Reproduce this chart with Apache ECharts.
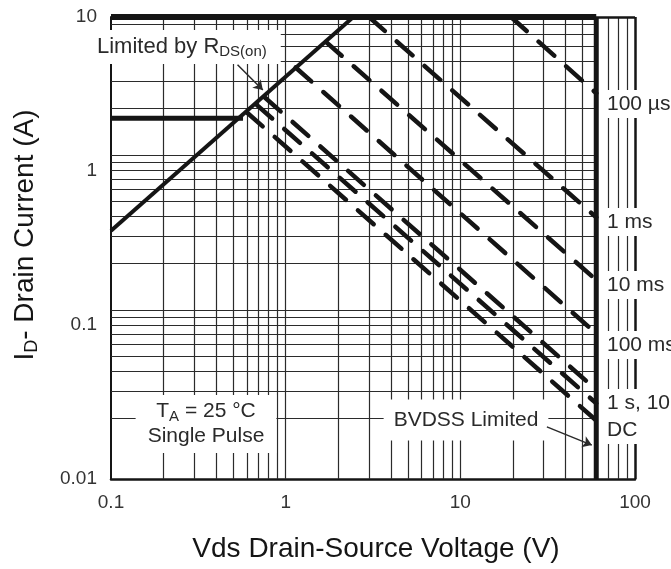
<!DOCTYPE html>
<html>
<head>
<meta charset="utf-8">
<title>Safe Operating Area</title>
<script src="https://cdn.jsdelivr.net/npm/echarts@6/dist/echarts.min.js"></script>
<style>
html, body { margin: 0; padding: 0; background: #fff; }
#chart { width: 671px; height: 569px; }
</style>
</head>
<body>
<div id="chart"></div>
<script>
// axis range / ticks
const xRange = [0.1, 100];
const yRange = [0.01, 10];

// the datasheet grid is drawn on a scale shifted a little against the labels
const gridYRange = [0.0081, 7.77];
const gridX = [0.2, 0.3, 0.4, 0.5, 0.6, 0.7, 0.8, 0.9, 1, 2, 3, 4, 5, 6, 7, 8, 9, 10, 20, 30, 40, 50, 70, 80, 90];
const gridY = [0.02, 0.03, 0.04, 0.05, 0.06, 0.07, 0.08, 0.09, 0.1, 0.2, 0.3, 0.4, 0.5, 0.6, 0.7, 0.8, 0.9, 1, 2, 3, 4, 5, 6, 7];

// solid limit lines
const rdsLimit = [[0.1, 0.41], [2.44, 10]];
const currentLimit = [[0.1, 2.2], [0.57, 2.2]];
const idmLimit = [[0.1, 10], [60, 10]];
const bvdssLimit = [[60, 0.01], [60, 10]];

// pulse curves (dashed)
const pulseNames = ['100 µs', '1 ms', '10 ms', '100 ms', '1 s', '10 s', 'DC'];
const pulseStart = [[19.5, 10], [3.0, 10], [1.7, 6.9], [1.14, 4.7], [0.76, 3.0], [0.68, 2.7], [0.6, 2.4]];
const pulseEnd = [[60, 3.2], [60, 0.5], [60, 0.196], [60, 0.088], [60, 0.038], [60, 0.031], [60, 0.024]];

// annotation arrows
const rdsArrow = [[0.53, 4.9], [0.74, 3.36]];
const bvdssArrow = [[31.3, 0.0218], [56.6, 0.0166]];

// label texts
const rightLabels = ['100 µs', '1 ms', '10 ms', '100 ms', '1 s, 10 s', 'DC'];

const FONT = "'Liberation Sans', Arial, Helvetica, sans-serif";
const INK = '#151515';

let chart = echarts.init(document.getElementById('chart'));

let vGrid = gridX.map(v => ({ coords: [[v, yRange[0]], [v, yRange[1]]] }));
let hGrid = gridY.map(v => ({ coords: [[xRange[0], v], [60, v]] }));
let frame = [
    { coords: [[xRange[0], yRange[1]], [xRange[1], yRange[1]]] },
    { coords: [[xRange[1], yRange[0]], [xRange[1], yRange[1]]] }
];

function solid(name, data, width) {
    return {
        name: name, type: 'line', data: data, symbol: 'none', clip: false, z: 4, silent: true,
        lineStyle: { color: INK, width: width, cap: 'butt' }
    };
}

let pulseSeries = pulseNames.map((n, i) => ({
    name: n, type: 'line', data: [pulseStart[i], pulseEnd[i]], symbol: 'none', z: 3, silent: true,
    lineStyle: { color: INK, width: 4.5, type: [21, 16], cap: 'round' }
}));

let noteRich = {
    m: { fontSize: 21, lineHeight: 25, fontFamily: FONT, fill: '#2a2a2a' },
    s: { fontSize: 15, lineHeight: 25, fontFamily: FONT, fill: '#2a2a2a', verticalAlign: 'bottom' }
};

let graphics = [
    { // Limited by RDS(on)
        type: 'text', z: 100, x: 93, y: 30,
        style: {
            text: '{b|Limited by R}{s|DS(on)}', align: 'left', verticalAlign: 'top',
            backgroundColor: '#fff', padding: [4, 14, 5, 4],
            rich: {
                b: { fontSize: 22, lineHeight: 25, fontFamily: FONT, fill: '#2a2a2a' },
                s: noteRich.s
            }
        }
    },
    { // TA = 25 C, single pulse
        type: 'text', z: 100, x: 206, y: 424,
        style: {
            text: '{m|T}{s|A}{m| = 25 °C}\n{m|Single Pulse}', align: 'center', verticalAlign: 'middle',
            backgroundColor: '#fff', padding: [4, 12, 4, 12], rich: noteRich
        }
    },
    { // BVDSS Limited
        type: 'text', z: 100, x: 466, y: 420,
        style: {
            text: 'BVDSS Limited', fontSize: 21, fontFamily: FONT, fill: '#2a2a2a',
            align: 'center', verticalAlign: 'middle', lineHeight: 24,
            backgroundColor: '#fff', padding: [8, 10, 9, 10]
        }
    },
    { // y axis title
        type: 'text', z: 100, x: 25, y: 235, rotation: Math.PI / 2,
        style: {
            text: '{m|I}{s|D}{m|- Drain Current (A)}', align: 'center', verticalAlign: 'middle',
            rich: {
                m: { fontSize: 28, lineHeight: 32, fontFamily: FONT, fill: INK },
                s: { fontSize: 18, lineHeight: 32, fontFamily: FONT, fill: INK, verticalAlign: 'bottom' }
            }
        }
    }
];

let rightY = [104, 222, 285, 345, 403, 430];
rightLabels.forEach((t, i) => {
    graphics.push({
        type: 'text', z: 100, x: 602, y: rightY[i],
        style: {
            text: t, fontSize: 21, fontFamily: FONT, fill: '#2a2a2a', lineHeight: 24,
            align: 'left', verticalAlign: 'middle',
            backgroundColor: '#fff', padding: [2, 40, 2, 5]
        }
    });
});

let tickFmt = v => String(parseFloat(Number(v).toPrecision(6)));

let option = {
    animation: false,
    backgroundColor: '#fff',
    textStyle: { fontFamily: FONT },
    grid: { left: 111, top: 17, width: 524, height: 462 },
    xAxis: {
        type: 'log', logBase: 10, min: xRange[0], max: xRange[1],
        name: 'Vds Drain-Source Voltage (V)', nameLocation: 'middle', nameGap: 56,
        nameTextStyle: { fontSize: 28, color: INK, fontFamily: FONT, padding: [0, 0, 0, 6] },
        axisLine: { show: true, lineStyle: { color: INK, width: 2.5 } },
        axisTick: { show: false },
        splitLine: { show: false },
        axisLabel: { fontSize: 19, color: '#333', margin: 14, formatter: tickFmt }
    },
    yAxis: [
        {
            type: 'log', logBase: 10, min: yRange[0], max: yRange[1],
            axisLine: { show: true, lineStyle: { color: INK, width: 2 } },
            axisTick: { show: false },
            splitLine: { show: false },
            axisLabel: { fontSize: 19, color: '#333', margin: 14, formatter: tickFmt }
        },
        {
            type: 'log', logBase: 10, min: gridYRange[0], max: gridYRange[1], show: false,
            splitLine: { show: false }
        }
    ],
    graphic: graphics,
    series: [
        {
            name: 'grid-x', type: 'lines', coordinateSystem: 'cartesian2d', xAxisIndex: 0, yAxisIndex: 0,
            z: 1, silent: true, data: vGrid,
            lineStyle: { color: '#2b2b2b', width: 1.2, opacity: 1 }
        },
        {
            name: 'grid-y', type: 'lines', coordinateSystem: 'cartesian2d', xAxisIndex: 0, yAxisIndex: 1,
            z: 1, silent: true, data: hGrid,
            lineStyle: { color: '#2b2b2b', width: 1.2, opacity: 1 }
        },
        {
            name: 'frame', type: 'lines', coordinateSystem: 'cartesian2d', xAxisIndex: 0, yAxisIndex: 0,
            z: 2, silent: true, data: frame,
            lineStyle: { color: INK, width: 2.5, opacity: 1 }
        },
        solid('RDS(on)', rdsLimit, 4),
        solid('ID', currentLimit, 5),
        solid('IDM', idmLimit, 6),
        solid('BVDSS', bvdssLimit, 5),
        ...pulseSeries,
        {
            name: 'arrows', type: 'lines', coordinateSystem: 'cartesian2d', xAxisIndex: 0, yAxisIndex: 0,
            z: 101, silent: true, symbol: ['none', 'arrow'], symbolSize: 9,
            data: [{ coords: rdsArrow }, { coords: bvdssArrow }],
            lineStyle: { color: '#2a2a2a', width: 1.5, opacity: 1 }
        }
    ]
};

chart.setOption(option);
</script>
</body>
</html>
